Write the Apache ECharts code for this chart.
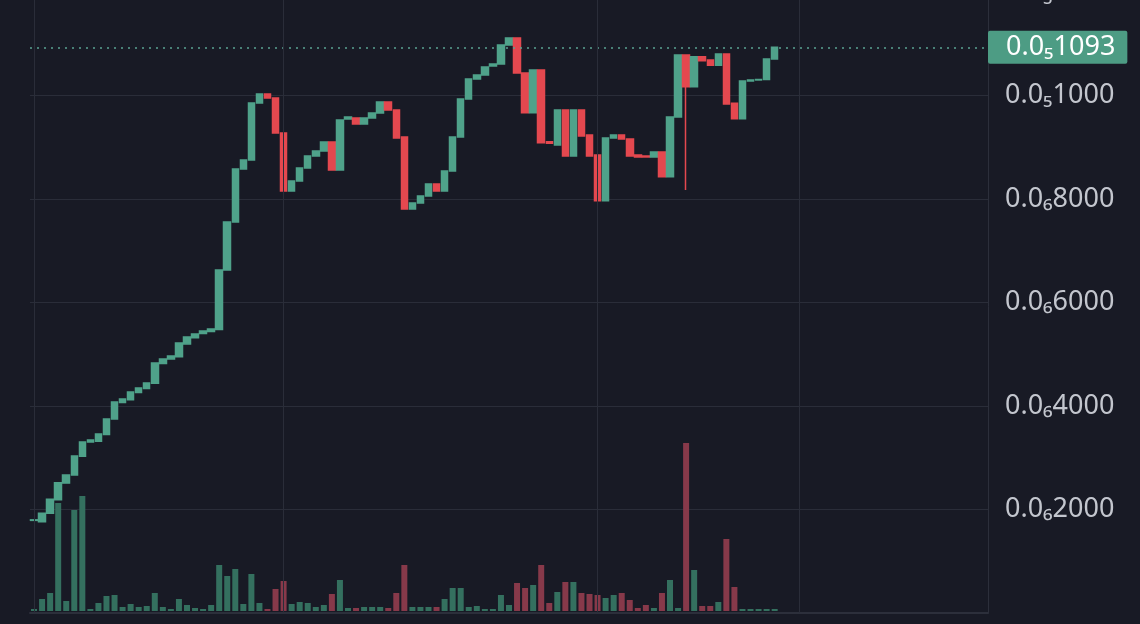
<!DOCTYPE html>
<html><head><meta charset="utf-8">
<script src="https://cdn.jsdelivr.net/npm/echarts@6/dist/echarts.min.js"></script>
<style>html,body{margin:0;background:#181a25}#c{width:1140px;height:624px}</style>
</head><body><div id="c"></div>
<script>
const opens = [1790,1765,1927,2190,2510,2667,3030,3304,3320,3450,3749,4070,4120,4260,4340,4440,4820,4910,4950,5200,5320,5400,5440,5480,6628,7556,8580,8754,9855,10029,9952,9275,8155,8348,8599,8831,8927,9101,8560,9546,9565,9449,9565,9662,9874,9720,9198,7807,7923,8058,8290,8155,8541,9198,9932,10319,10396,10570,10609,10976,11112,10435,9668,10493,9107,9043,9720,8831,9720,9236,8850,7967,9179,9236,9159,8850,8831,8812,8908,8431,9585,10783,10170,10750,10686,10583,10802,9849,9552,10280,10300,10309,10705];
const closes = [1800,1927,2197,2518,2667,3034,3304,3343,3459,3749,4077,4135,4271,4348,4444,4831,4908,4966,5217,5333,5391,5449,5488,6628,7556,8580,8754,9855,10029,9952,9275,8155,8348,8599,8831,8927,9101,8560,9527,9585,9449,9565,9662,9874,9720,9179,7807,7923,8058,8290,8155,8541,9198,9932,10319,10396,10551,10609,10976,11112,10435,9668,10493,9088,9075,9720,8831,9720,9217,8831,7967,9179,9236,9159,8831,8812,8812,8908,8431,9585,10783,10170,10750,10673,10583,10802,9836,9552,10280,10300,10309,10705,10930];
const wickLows = {81: 8174};
const volumes = [6,36,54,324,30,303,345,6,24,45,48,12,21,12,15,54,12,6,36,18,9,6,18,138,105,126,21,111,24,6,66,90,21,27,24,12,18,51,93,9,9,12,12,12,9,54,138,12,12,12,12,36,69,69,12,15,6,6,48,18,84,69,78,138,24,57,87,87,54,51,48,39,48,54,33,9,18,9,54,93,9,504,123,15,15,27,216,72,6,6,6,6,6];
const priceTicks = [2000,4000,6000,8000,10000,12000];
const lastPrice = 10930;
const timeLines = [0,31,70,95];
const totalSlots = 119;

const cats = Array.from({length: totalSlots}, (_, i) => 'c' + i);
const candles = opens.map((o, i) => {
  const c = closes[i];
  const lo = wickLows[i] !== undefined ? wickLows[i] : Math.min(o, c);
  return [o, c, lo, Math.max(o, c)];
});
const UP = '#4fa28a', DOWN = '#e4484f', VUP = '#34705f', VDOWN = '#87394a';
const volData = volumes.map((v, i) => ({value: v, itemStyle: {color: closes[i] >= opens[i] ? VUP : VDOWN}}));
function fmt(v) {
  if (v <= 0) return '';
  if (v >= 10000) return '0.0\u2085' + String(Math.round(v / 10));
  return '0.0\u2086' + String(Math.round(v));
}
const FONT = "'Noto Sans','DejaVu Sans',sans-serif";
const chart = echarts.init(document.getElementById('c'));
chart.setOption({
  backgroundColor: '#181a25',
  animation: false,
  grid: [
    {left: 30, right: 152, top: -8, bottom: 11, outerBoundsMode: 'none', containLabel: false},
    {left: 30, right: 152, bottom: 13, height: 200, outerBoundsMode: 'none', containLabel: false}
  ],
  xAxis: [
    {type: 'category', data: cats, gridIndex: 0, axisLabel: {show: false}, axisTick: {show: false}, axisLine: {show: true, lineStyle: {color: '#2c2f3b', width: 2}}, splitLine: {show: false}},
    {type: 'category', data: cats, gridIndex: 1, axisLabel: {show: false}, axisTick: {show: false}, axisLine: {show: false}, splitLine: {show: false}}
  ],
  yAxis: [
    {type: 'value', gridIndex: 0, position: 'right', min: 0, max: 12000, interval: 2000,
     axisLine: {show: true, lineStyle: {color: '#2c2f3b'}}, axisTick: {show: false},
     splitLine: {lineStyle: {color: '#2a2d39', width: 1}},
     axisLabel: {formatter: fmt, color: '#c3c6ce', fontSize: 27, fontFamily: FONT, margin: 17}},
    {type: 'value', gridIndex: 1, min: 0, max: 600, show: false, splitLine: {show: false}}
  ],
  series: [
    {type: 'bar', xAxisIndex: 1, yAxisIndex: 1, data: volData, barWidth: 6, z: 1},
    {type: 'candlestick', xAxisIndex: 0, yAxisIndex: 0, data: candles, barWidth: 7, z: 3,
     itemStyle: {color: UP, color0: DOWN, borderColor: UP, borderColor0: DOWN, borderWidth: 1.5},
     markLine: {silent: true, symbol: 'none', animation: false,
       data: [
         {yAxis: lastPrice, lineStyle: {type: [2, 5], color: '#5aa391', width: 1.5},
          label: {show: true, position: 'end', formatter: fmt(lastPrice), color: '#ffffff', fontSize: 27, fontFamily: FONT,
            backgroundColor: '#4d9c84', padding: [3, 12, 3, 18], distance: 0, borderRadius: 2}},
         ...timeLines.map(t => ({xAxis: t, lineStyle: {type: 'solid', color: '#2a2d39', width: 1}, label: {show: false}}))
       ]}}
  ]
});
</script></body></html>
